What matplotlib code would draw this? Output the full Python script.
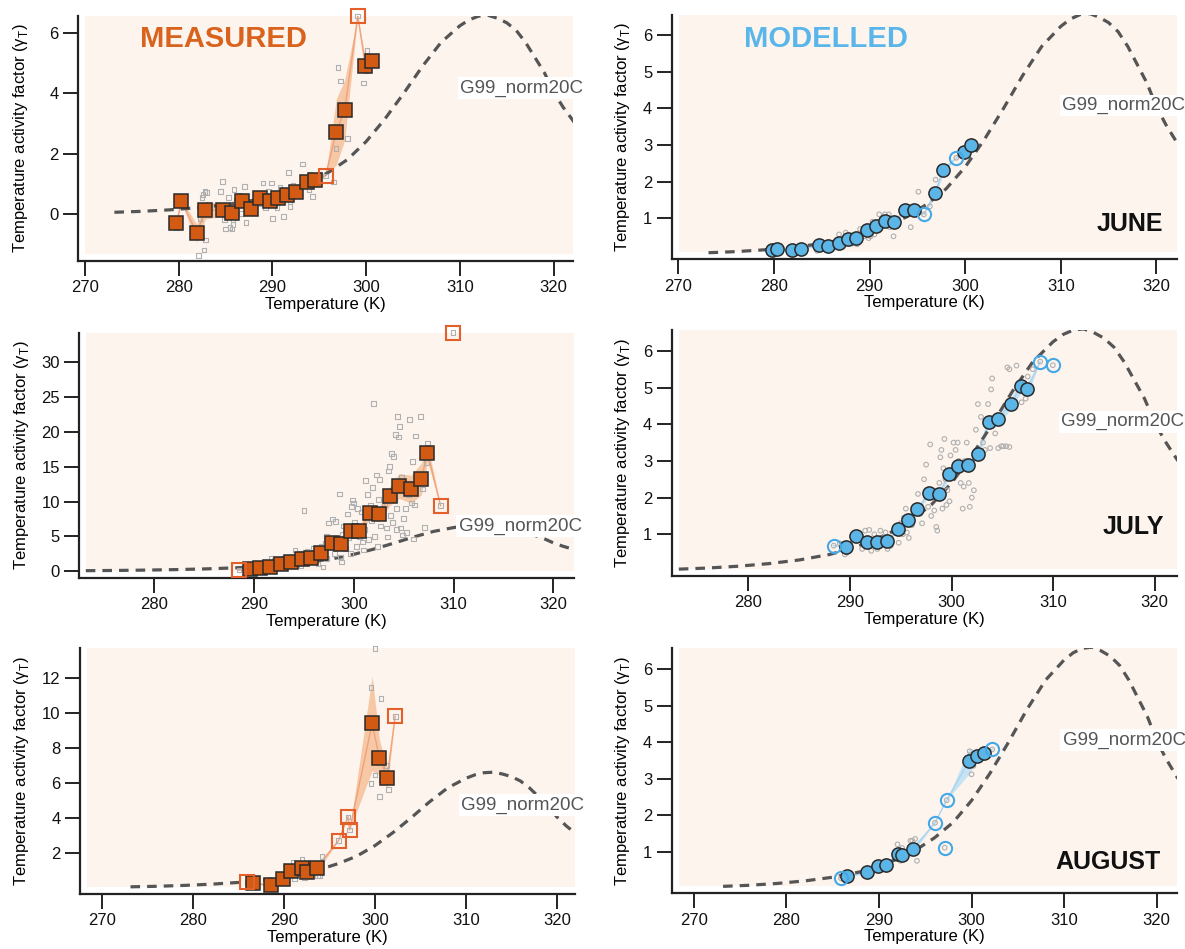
import matplotlib.pyplot as plt
from matplotlib.patches import Rectangle

plt.rcParams['font.family'] = ['Liberation Sans', 'DejaVu Sans']
plt.rcParams['mathtext.fontset'] = 'custom'
plt.rcParams['mathtext.rm'] = 'Liberation Sans'

W, H = 1185, 949

# G99 temperature response (normalised to 20 C)
g99_t = [273.15, 276, 279, 282, 285, 288, 290, 292, 294, 296, 298, 300, 302, 304,
         306, 308, 310, 311, 312, 313, 314, 315, 316, 317, 318, 319, 320, 321, 322.3]
g99_y = [0.05, 0.08, 0.13, 0.2, 0.3, 0.45, 0.6, 0.8, 1.05, 1.38, 1.8, 2.4, 3.15, 4.0,
         4.9, 5.7, 6.25, 6.45, 6.57, 6.6, 6.5, 6.35, 6.1, 5.7, 5.2, 4.7, 4.05, 3.55, 3.0]

# ---- JUNE, measured
jun_meas_x = [279.77, 280.3, 281.94, 282.84, 284.76, 285.7, 286.76, 287.7, 288.72, 289.75, 290.65,
              291.59, 292.53, 293.71, 294.57, 295.67, 296.82, 297.72, 299.11, 299.93, 300.62]
jun_meas_y = [-0.32, 0.43, -0.65, 0.12, 0.12, 0.03, 0.41, 0.17, 0.53, 0.42, 0.53,
              0.62, 0.73, 1.05, 1.11, 1.26, 2.72, 3.45, 6.58, 4.91, 5.09]
jun_meas_err = [0.05, 0.05, 0.3, 0.3, 0.2, 0.2, 0.15, 0.12, 0.1, 0.1, 0.1,
                0.1, 0.1, 0.08, 0.08, 0.0, 1.1, 1.0, 0.0, 0.25, 0.05]
jun_meas_open = [0] * 15 + [1, 0, 0, 1, 0, 0]
jun_meas_raw_x = [279.8, 282.3, 282.6, 282.8, 283.0, 282.5, 282.1, 282.7, 282.9, 284.5, 284.7,
                  284.9, 285.0, 285.3, 285.5, 285.7, 285.8, 285.9, 285.4, 285.8, 286.2, 286.5,
                  286.7, 287.0, 287.2, 287.6, 288.5, 289.0, 289.3, 289.9, 290.0, 289.6, 290.3,
                  290.5, 290.8, 291.2, 291.0, 291.7, 291.9, 291.9, 292.2, 292.3, 293.2, 293.9,
                  294.1, 294.3, 294.7, 295.0, 296.5, 295.67, 296.8, 297.3, 297.0, 298.0, 299.7,
                  300.1, 299.11, 300.0]
jun_meas_raw_y = [-0.45, -0.15, 0.65, 0.75, 0.7, 0.55, -1.38, -1.2, -0.87, 0.75, 1.08,
                  -0.2, -0.5, 0.55, -0.45, -0.5, -0.35, 0.8, 0.1, -0.2, 0.45, 0.6,
                  0.0, 0.9, -0.3, 0.3, 0.35, 1.02, 0.2, 1.02, -0.15, 0.75, 0.6,
                  0.2, 0.87, -0.1, 0.55, 1.37, 0.25, 0.4, 0.95, 0.8, 1.65, 0.8,
                  1.3, 0.58, 1.0, 1.3, 1.05, 1.26, 2.18, 4.42, 4.87, 2.5, 4.35,
                  5.42, 6.58, 4.75]

# ---- JUNE, modelled
jun_mod_x = [279.74, 280.33, 281.93, 282.83, 284.75, 285.69, 286.82, 287.72, 288.62, 289.72, 290.62,
             291.6, 292.54, 293.75, 294.65, 295.67, 296.84, 297.7, 299.07, 299.89, 300.6]
jun_mod_y = [0.13, 0.14, 0.13, 0.16, 0.25, 0.24, 0.33, 0.42, 0.45, 0.66, 0.79,
             0.93, 0.9, 1.21, 1.22, 1.1, 1.69, 2.32, 2.65, 2.81, 3.01]
jun_mod_err = [0.01, 0.01, 0.01, 0.02, 0.02, 0.02, 0.03, 0.04, 0.04, 0.05, 0.05,
               0.06, 0.06, 0.08, 0.12, 0.0, 0.12, 0.1, 0.0, 0.05, 0.03]
jun_mod_open = [0] * 15 + [1, 0, 0, 1, 0, 0]
jun_mod_raw_x = [284.5, 286.8, 287.5, 288.2, 288.7, 289.2, 289.5, 289.9, 290.1, 290.3, 290.5,
                 291.0, 291.6, 292.0, 292.1, 292.5, 292.2, 293.0, 294.0, 294.3, 295.1, 296.3,
                 296.9, 289.0, 290.4, 295.67, 299.07]
jun_mod_raw_y = [0.1, 0.55, 0.6, 0.3, 0.28, 0.6, 0.5, 0.45, 0.5, 0.9, 0.55,
                 1.1, 1.1, 1.1, 0.75, 0.5, 1.0, 0.9, 1.3, 0.75, 1.72, 1.32,
                 2.05, 0.7, 0.7, 1.1, 2.65]

# ---- JULY, measured
jul_meas_x = [288.47, 289.58, 290.6, 291.65, 292.68, 293.7, 294.83, 295.75, 296.67, 297.8, 298.75,
              299.73, 300.57, 301.6, 302.57, 303.64, 304.56, 305.75, 306.78, 307.39, 308.7]
jul_meas_y = [0.14, 0.24, 0.43, 0.62, 0.96, 1.34, 1.78, 1.87, 2.54, 3.98, 3.84,
              5.76, 5.76, 8.35, 8.16, 10.85, 12.24, 11.76, 13.25, 17.0, 9.41]
jul_meas_err = [0.0, 0.05, 0.1, 0.1, 0.15, 0.2, 0.25, 0.3, 0.35, 0.5, 0.5,
                0.6, 0.6, 0.9, 1.0, 1.4, 1.8, 2.0, 2.3, 1.3, 0.0]
jul_meas_open = [1] + [0] * 19 + [1]
jul_meas_lone_x = [309.96]
jul_meas_lone_y = [34.3]
jul_meas_raw_x = [288.5, 289.6, 290.3, 290.8, 291.3, 291.7, 292.0, 292.3, 292.6, 292.9, 293.2,
                  293.5, 293.8, 294.1, 294.4, 294.7, 295.0, 295.3, 295.6, 295.9, 296.2, 295.0,
                  294.6, 293.9, 296.4, 296.7, 296.9, 296.9, 297.1, 297.3, 297.5, 297.7, 297.9,
                  298.1, 298.2, 298.4, 298.6, 298.7, 298.9, 299.0, 299.2, 299.4, 299.5, 298.8,
                  297.3, 299.7, 299.8, 299.9, 300.0, 300.1, 300.3, 300.4, 300.6, 300.8, 300.9,
                  301.1, 301.2, 301.4, 301.5, 301.7, 301.8, 302.0, 302.1, 302.3, 302.4, 301.9,
                  300.5, 301.0, 302.5, 302.7, 302.6, 302.9, 303.1, 303.3, 303.5, 303.6, 303.7,
                  303.8, 303.9, 304.0, 304.1, 304.2, 304.3, 304.4, 304.5, 304.6, 304.7, 304.8,
                  304.9, 305.0, 303.4, 304.3, 305.2, 305.3, 305.5, 305.6, 305.8, 305.9, 306.0,
                  306.1, 306.2, 306.4, 306.7, 306.9, 307.1, 307.3, 307.4, 308.7, 309.96]
jul_meas_raw_y = [0.15, 0.2, 0.8, 1.0, 1.3, 1.9, 1.5, 0.7, 1.2, 1.8, 0.9,
                  1.6, 2.0, 3.0, 1.2, 0.8, 2.2, 2.8, 1.5, 3.3, 2.0, 8.7,
                  2.5, 0.7, 1.0, 3.6, 0.6, 3.0, 4.0, 5.0, 6.9, 3.5, 7.5,
                  2.5, 7.1, 4.5, 11.1, 2.0, 5.3, 6.5, 3.2, 8.2, 4.8, 1.3,
                  1.8, 2.5, 9.3, 10.2, 9.8, 7.0, 3.5, 9.0, 5.0, 8.5, 4.2,
                  6.0, 13.0, 11.0, 4.5, 9.5, 7.3, 24.1, 5.0, 13.8, 3.5, 12.0,
                  6.3, 3.0, 10.3, 6.5, 13.2, 7.8, 9.5, 6.2, 14.4, 15.0, 8.0,
                  16.9, 7.0, 16.5, 10.2, 19.6, 9.0, 22.2, 19.3, 20.8, 6.2, 13.5,
                  5.2, 7.6, 4.9, 6.0, 9.0, 5.5, 11.0, 21.8, 9.8, 15.8, 4.6,
                  9.5, 19.4, 13.0, 22.2, 11.8, 6.3, 15.6, 18.4, 9.4, 34.3]

# ---- JULY, modelled
jul_mod_x = [288.4, 289.58, 290.57, 291.64, 292.63, 293.66, 294.77, 295.76, 296.65, 297.75, 298.75,
             299.78, 300.59, 301.66, 302.58, 303.68, 304.57, 305.82, 306.85, 307.44, 308.73]
jul_mod_y = [0.69, 0.65, 0.95, 0.78, 0.8, 0.82, 1.14, 1.4, 1.68, 2.13, 2.1,
             2.65, 2.86, 2.88, 3.2, 4.07, 4.14, 4.55, 5.05, 4.95, 5.71]
jul_mod_err = [0.0, 0.03, 0.04, 0.04, 0.04, 0.04, 0.05, 0.06, 0.07, 0.09, 0.09,
               0.1, 0.1, 0.1, 0.12, 0.15, 0.15, 0.15, 0.18, 0.18, 0.0]
jul_mod_open = [1] + [0] * 19 + [1]
jul_mod_lone_x = [309.98]
jul_mod_lone_y = [5.61]
jul_mod_raw_x = [289.5, 289.7, 289.0, 290.0, 291.2, 291.5, 291.9, 292.1, 292.4, 292.7, 293.0,
                 293.3, 293.7, 294.0, 293.5, 294.5, 294.8, 295.0, 295.3, 295.6, 295.8, 295.2,
                 295.5, 296.1, 296.4, 296.7, 296.9, 297.1, 297.3, 297.5, 297.7, 297.9, 298.0,
                 298.2, 298.5, 298.6, 298.8, 298.3, 299.0, 299.2, 299.3, 299.5, 299.6, 299.8,
                 299.9, 299.1, 299.4, 298.9, 300.2, 300.4, 300.6, 300.9, 301.1, 301.3, 301.5,
                 301.7, 301.8, 302.0, 302.2, 302.4, 301.2, 300.7, 302.6, 302.9, 303.1, 303.3,
                 303.6, 303.9, 304.0, 304.3, 304.6, 304.9, 305.1, 305.4, 305.7, 303.8, 305.5,
                 305.7, 306.0, 306.4, 306.9, 307.3, 307.5, 306.5, 308.0, 288.4, 308.73, 309.98]
jul_mod_raw_y = [0.45, 0.5, 0.75, 0.7, 0.6, 1.1, 1.12, 0.55, 1.0, 0.6, 1.1,
                 0.9, 0.6, 0.68, 1.05, 1.2, 0.77, 1.3, 1.45, 1.05, 0.9, 1.0,
                 1.7, 1.25, 1.6, 2.1, 1.55, 1.3, 2.5, 2.9, 1.75, 3.45, 1.5,
                 2.0, 1.2, 1.1, 2.4, 1.65, 3.3, 2.8, 3.6, 1.8, 2.2, 1.9,
                 3.15, 1.7, 2.5, 3.1, 3.5, 3.3, 3.5, 2.4, 1.7, 3.0, 3.5,
                 2.4, 1.75, 2.0, 2.2, 3.85, 2.3, 3.0, 4.55, 4.2, 3.5, 3.3,
                 4.55, 4.95, 5.25, 3.75, 3.35, 3.4, 3.4, 3.4, 3.38, 3.35, 5.55,
                 5.5, 4.5, 5.6, 4.6, 4.7, 5.3, 5.0, 5.5, 0.69, 5.71, 5.61]

# ---- AUGUST, measured
aug_meas_x = [285.91, 286.62, 288.64, 289.91, 290.75, 292.01, 292.56, 293.61, 296.01, 297.06,
              297.23, 299.71, 300.51, 301.36, 302.24]
aug_meas_y = [0.30, 0.25, 0.15, 0.51, 0.95, 1.14, 0.91, 1.14, 2.69, 4.06,
              3.3, 9.39, 7.43, 6.29, 9.81]
aug_meas_err = [0.0, 0.05, 0.05, 0.1, 0.15, 0.2, 0.2, 0.25, 0.0, 0.0,
                0.0, 2.7, 1.0, 0.6, 0.0]
aug_meas_open = [1, 0, 0, 0, 0, 0, 0, 0, 1, 1, 1, 0, 0, 0, 1]
aug_meas_raw_x = [286.0, 291.0, 291.2, 292.0, 292.3, 292.4, 293.5, 293.7, 293.9, 294.2, 296.0,
                  297.06, 297.23, 299.6, 300.0, 300.7, 299.6, 300.0, 300.5, 300.7, 301.3, 301.5,
                  302.24]
aug_meas_raw_y = [0.3, 1.45, 0.5, 1.6, 0.6, 1.3, 1.4, 0.7, 0.7, 1.8, 2.7,
                  4.05, 3.3, 11.45, 13.68, 10.8, 5.95, 6.45, 5.2, 6.2, 7.0, 5.6,
                  9.8]

# ---- AUGUST, modelled
aug_mod_x = [285.9, 286.59, 288.65, 289.94, 290.79, 292.05, 292.53, 293.66, 296.05, 297.31,
             299.73, 300.54, 301.35, 302.24]
aug_mod_y = [0.27, 0.33, 0.43, 0.61, 0.64, 0.95, 0.91, 1.07, 1.79, 2.41,
             3.48, 3.63, 3.69, 3.8]
aug_mod_err = [0.0, 0.02, 0.03, 0.03, 0.04, 0.08, 0.08, 0.1, 0.0, 0.0,
               0.35, 0.15, 0.1, 0.0]
aug_mod_open = [1, 0, 0, 0, 0, 0, 0, 0, 1, 1, 0, 0, 0, 1]
aug_mod_lone_x = [297.1]
aug_mod_lone_y = [1.11]
aug_mod_raw_x = [285.9, 292.0, 292.3, 292.5, 292.7, 293.4, 293.6, 293.9, 294.1, 293.5, 297.31,
                 296.05, 297.1, 299.8, 299.9, 300.0, 300.2, 302.24]
aug_mod_raw_y = [0.27, 1.2, 0.75, 1.1, 0.8, 1.3, 1.3, 1.35, 0.75, 0.95, 2.41,
                 1.79, 1.11, 3.75, 3.65, 3.12, 3.35, 3.8]

BG = '#fdf4ee'
ORANGE = '#d35a12'
ORANGE_OPEN = '#e4602a'
ORANGE_BAND = '#f6c8a6'
BLUE = '#5bb5e6'
BLUE_OPEN = '#45a8e6'
BLUE_BAND = '#c6e3f4'


def make_axes(fig, left, top, right, bottom):
    # pixel box (from top-left of the image) -> figure fraction
    ax = fig.add_axes([left / W, 1 - bottom / H, (right - left) / W, (bottom - top) / H])
    ax.set_facecolor('none')
    dx = 7 / (right - left)
    dy = 7 / (bottom - top)
    ax.add_patch(Rectangle((dx, dy), 1 - dx, 1 - dy, transform=ax.transAxes,
                           facecolor=BG, edgecolor='none', zorder=0))
    for s in ['top', 'right']:
        ax.spines[s].set_visible(False)
    for s in ['left', 'bottom']:
        ax.spines[s].set_linewidth(1.6)
        ax.spines[s].set_color('#222222')
    ax.tick_params(direction='out', length=11, width=1.4, color='#222222',
                   labelsize=12, pad=3, labelcolor='#111111')
    return ax, (right - left), (bottom - top)


def draw_panel(ax, axw, axh, kind, x, y, err, is_open, raw_x, raw_y,
               lone_x=None, lone_y=None):
    if kind == 'meas':
        band, line_c, fill_c, open_c, mk, ms = ORANGE_BAND, '#f0a27a', ORANGE, ORANGE_OPEN, 's', 9.5
    else:
        band, line_c, fill_c, open_c, mk, ms = BLUE_BAND, '#a9d4ef', BLUE, BLUE_OPEN, 'o', 9.5
    lo = [a - b for a, b in zip(y, err)]
    hi = [a + b for a, b in zip(y, err)]
    ax.fill_between(x, lo, hi, color=band, lw=0, zorder=1)
    ax.plot(x, y, color=line_c, lw=1.0, zorder=1.5)

    ax.plot(g99_t, g99_y, color='#555555', lw=2.3, ls=(0, (3, 2.2)), zorder=2)

    ax.scatter(raw_x, raw_y, marker=mk, s=11, facecolors='none', edgecolors='#b0b0b0',
               linewidths=0.8, zorder=3, clip_on=False)

    fx = [a for a, o in zip(x, is_open) if not o]
    fy = [a for a, o in zip(y, is_open) if not o]
    ox = [a for a, o in zip(x, is_open) if o]
    oy = [a for a, o in zip(y, is_open) if o]
    if lone_x:
        ox = ox + list(lone_x)
        oy = oy + list(lone_y)
    ax.plot(fx, fy, mk, ms=ms, mfc=fill_c, mec='#2a2a2a', mew=1.1, ls='none',
            zorder=4, clip_on=False)
    ax.plot(ox, oy, mk, ms=ms, mfc='none', mec=open_c, mew=1.5, ls='none',
            zorder=4, clip_on=False)

    ax.set_xlabel('Temperature (K)', fontsize=12)
    ax.set_ylabel('Temperature activity factor (γ$_\\mathrm{T}$)', fontsize=12)
    ax.xaxis.set_label_coords(0.5, -36 / axh)


fig = plt.figure(figsize=(W / 100, H / 100), dpi=100)

panels = [
    # box (left, top, right, bottom) px, xlim, ylim, yticks, xticks, kind, data, label pos
    dict(box=(78.3, 16, 573.3, 261), xlim=(269.3, 322.1), ylim=(-1.57, 6.575),
         yt=[0, 2, 4, 6], xt=[270, 280, 290, 300, 310, 320], kind='meas',
         data=(jun_meas_x, jun_meas_y, jun_meas_err, jun_meas_open, jun_meas_raw_x, jun_meas_raw_y),
         lone=None, g99=(310.0, 4.18), ylx=30),
    dict(box=(671.7, 15, 1177, 259.3), xlim=(269.3, 322.15), ylim=(-0.13, 6.56),
         yt=[1, 2, 3, 4, 5, 6], xt=[270, 280, 290, 300, 310, 320], kind='mod',
         data=(jun_mod_x, jun_mod_y, jun_mod_err, jun_mod_open, jun_mod_raw_x, jun_mod_raw_y),
         lone=None, g99=(310.1, 4.08), ylx=632, month=('JUNE', 320.7, 0.83)),
    dict(box=(79.3, 333.3, 574.3, 577.7), xlim=(272.5, 322.1), ylim=(-0.96, 34.2),
         yt=[0, 5, 10, 15, 20, 25, 30], xt=[280, 290, 300, 310, 320], kind='meas',
         data=(jul_meas_x, jul_meas_y, jul_meas_err, jul_meas_open, jul_meas_raw_x, jul_meas_raw_y),
         lone=(jul_meas_lone_x, jul_meas_lone_y), g99=(310.5, 6.48), ylx=31),
    dict(box=(671.7, 330, 1177, 576), xlim=(272.45, 322.2), ylim=(-0.137, 6.57),
         yt=[1, 2, 3, 4, 5, 6], xt=[280, 290, 300, 310, 320], kind='mod',
         data=(jul_mod_x, jul_mod_y, jul_mod_err, jul_mod_open, jul_mod_raw_x, jul_mod_raw_y),
         lone=(jul_mod_lone_x, jul_mod_lone_y), g99=(310.8, 4.07), ylx=632,
         month=('JULY', 320.9, 1.19)),
    dict(box=(80, 648.3, 575, 894), xlim=(267.6, 322.0), ylim=(-0.36, 13.68),
         yt=[2, 4, 6, 8, 10, 12], xt=[270, 280, 290, 300, 310, 320], kind='meas',
         data=(aug_meas_x, aug_meas_y, aug_meas_err, aug_meas_open, aug_meas_raw_x, aug_meas_raw_y),
         lone=None, g99=(309.5, 4.73), ylx=31),
    dict(box=(671.7, 648.3, 1177, 893.3), xlim=(267.6, 322.2), ylim=(-0.14, 6.57),
         yt=[1, 2, 3, 4, 5, 6], xt=[270, 280, 290, 300, 310, 320], kind='mod',
         data=(aug_mod_x, aug_mod_y, aug_mod_err, aug_mod_open, aug_mod_raw_x, aug_mod_raw_y),
         lone=(aug_mod_lone_x, aug_mod_lone_y), g99=(309.85, 4.06), ylx=632,
         month=('AUGUST', 320.4, 0.71)),
]

axes = []
for p in panels:
    ax, axw, axh = make_axes(fig, *p['box'])
    lone = p['lone'] or (None, None)
    draw_panel(ax, axw, axh, p['kind'], *p['data'], lone_x=lone[0], lone_y=lone[1])
    ax.set_xlim(*p['xlim'])
    ax.set_ylim(*p['ylim'])
    ax.set_xticks(p['xt'])
    ax.set_yticks(p['yt'])
    ax.yaxis.set_label_coords((p['ylx'] - p['box'][0]) / axw, 0.5)
    ax.text(p['g99'][0], p['g99'][1], 'G99_norm20C', fontsize=13.5, color='#555555',
            ha='left', va='center', zorder=6,
            bbox=dict(boxstyle='square,pad=0.12', fc='white', ec='none'))
    if 'month' in p:
        name, mx, my = p['month']
        ax.text(mx, my, name, fontsize=18, fontweight='bold', color='#111111',
                ha='right', va='center', zorder=6)
    axes.append(ax)

axes[0].text(275.85, 5.82, 'MEASURED', fontsize=21, fontweight='bold', color='#d9621c',
             ha='left', va='center', zorder=6)
axes[1].text(276.85, 5.9, 'MODELLED', fontsize=21, fontweight='bold', color='#5ab6ea',
             ha='left', va='center', zorder=6)

fig.savefig('out.png', dpi=100)
